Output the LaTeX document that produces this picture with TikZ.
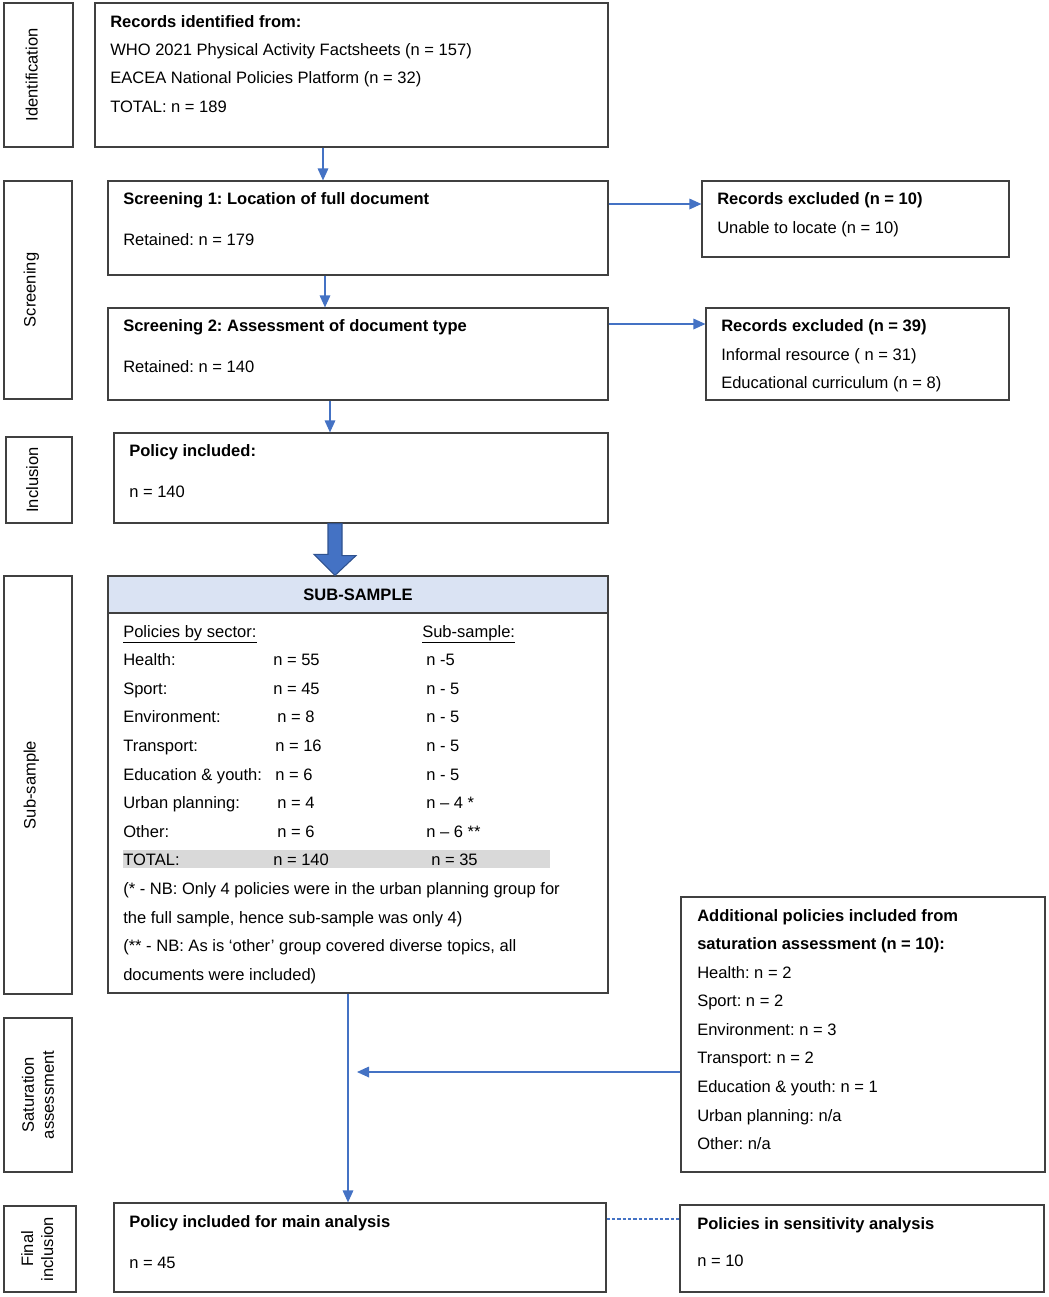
\documentclass[tikz,border=0pt]{standalone}
\usepackage{fontspec}
\setmainfont{Liberation Sans}
\usetikzlibrary{arrows.meta,fit}
\definecolor{flowblue}{HTML}{4472C4}
\definecolor{darkblue}{HTML}{2F528F}
\definecolor{headblue}{HTML}{DAE3F3}
\definecolor{totalgray}{HTML}{D9D9D9}
\definecolor{boxgray}{HTML}{404040}
\frenchspacing

\begin{document}
\begin{tikzpicture}[x=0.75pt, y=-0.75pt,
  box/.style={draw=boxgray, line width=0.9pt, inner sep=0pt},
  txt/.style={anchor=base west, inner sep=0pt, font=\fontsize{12.4}{15}\selectfont},
  side/.style={rotate=90, align=center, inner sep=0pt, font=\fontsize{12.4}{15}\selectfont},
  flow/.style={draw=flowblue, line width=0.9pt, -{Triangle[length=9pt, width=8pt]}}]

  \useasboundingbox (0,0) rectangle (1049,1297);

  % Stage labels (left)
  \node[box, fit={(4,3)(73,147)}] (sid) {};
  \node[side] (sidt) at ([xshift=-5pt]sid.center) {Identification};
  \node[box, fit={(4,181)(72,399)}] (sscr) {};
  \node[side] (sscrt) at ([xshift=-5pt]sscr.center) {Screening};
  \node[box, fit={(6,437)(72,523)}] (sinc) {};
  \node[side] (sinct) at ([xshift=-5pt]sinc.center) {Inclusion};
  \node[box, fit={(4,576)(72,994)}] (ssub) {};
  \node[side] (ssubt) at ([xshift=-5pt]ssub.center) {Sub-sample};
  \node[box, fit={(4,1018)(72,1172)}] (ssat) {};
  \node[side] (ssatt) at (ssat.center) {Saturation\\assessment};
  \node[box, fit={(4,1206)(76,1292)}] (sfin) {};
  \node[side] (sfint) at ([xshift=-2pt]sfin.center) {Final\\inclusion};

  % Identification
  \node[box, fit={(95,3)(608,147)}] (ident) {};
  \node[txt] (id1) at (110,27) {\textbf{Records identified from:}};
  \node[txt] (id2) at (110,55) {WHO 2021 Physical Activity Factsheets (n = 157)};
  \node[txt] (id3) at (110,83) {EACEA National Policies Platform (n = 32)};
  \node[txt] (id4) at (110,112) {TOTAL: n = 189};

  % Screening
  \node[box, fit={(108,181)(608,275)}] (scr1) {};
  \node[txt] (s11) at (123,204) {\textbf{Screening 1: Location of full document}};
  \node[txt] (s12) at (123,245) {Retained: n = 179};
  \node[box, fit={(108,308)(608,400)}] (scr2) {};
  \node[txt] (s21) at (123,331) {\textbf{Screening 2: Assessment of document type}};
  \node[txt] (s22) at (123,372) {Retained: n = 140};

  % Exclusions (right)
  \node[box, fit={(702,181)(1009,257)}] (exc1) {};
  \node[txt] (e11) at (717,204) {\textbf{Records excluded (n = 10)}};
  \node[txt] (e12) at (717,233) {Unable to locate (n = 10)};
  \node[box, fit={(706,308)(1009,400)}] (exc2) {};
  \node[txt] (e21) at (721,331) {\textbf{Records excluded (n = 39)}};
  \node[txt] (e22) at (721,360) {Informal resource ( n = 31)};
  \node[txt] (e23) at (721,388) {Educational curriculum (n = 8)};

  % Inclusion
  \node[box, fit={(114,433)(608,523)}] (incl) {};
  \node[txt] (in1) at (129,456) {\textbf{Policy included:}};
  \node[txt] (in2) at (129,497) {n = 140};

  % Sub-sample
  \node[box, fit={(108,576)(608,993)}] (sub) {};
  \node[box, fill=headblue, fit={(108,576)(608,613)}] (subhead) {};
  \node[txt, anchor=base] (subt) at (358,600) {\textbf{SUB-SAMPLE}};
  \node[fill=totalgray, inner sep=0pt, fit={(123,850)(550,868)}] (totbar) {};
  \node[txt] (h1) at (123,637) {\underline{Policies by sector:}};
  \node[txt] (h2) at (422,637) {\underline{Sub-sample:}};
  \node[txt] (r1a) at (123,665) {Health:};
  \node[txt] (r1b) at (273,665) {n = 55};
  \node[txt] (r1c) at (426,665) {n -5};
  \node[txt] (r2a) at (123,694) {Sport:};
  \node[txt] (r2b) at (273,694) {n = 45};
  \node[txt] (r2c) at (426,694) {n - 5};
  \node[txt] (r3a) at (123,722) {Environment:};
  \node[txt] (r3b) at (277,722) {n = 8};
  \node[txt] (r3c) at (426,722) {n - 5};
  \node[txt] (r4a) at (123,751) {Transport:};
  \node[txt] (r4b) at (275,751) {n = 16};
  \node[txt] (r4c) at (426,751) {n - 5};
  \node[txt] (r5a) at (123,780) {Education \& youth:};
  \node[txt] (r5b) at (275,780) {n = 6};
  \node[txt] (r5c) at (426,780) {n - 5};
  \node[txt] (r6a) at (123,808) {Urban planning:};
  \node[txt] (r6b) at (277,808) {n = 4};
  \node[txt] (r6c) at (426,808) {n – 4 *};
  \node[txt] (r7a) at (123,837) {Other:};
  \node[txt] (r7b) at (277,837) {n = 6};
  \node[txt] (r7c) at (426,837) {n – 6 **};
  \node[txt] (r8a) at (123,865) {TOTAL:};
  \node[txt] (r8b) at (273,865) {n = 140};
  \node[txt] (r8c) at (431,865) {n = 35};
  \node[txt] (nb1) at (123,894) {(* - NB: Only 4 policies were in the urban planning group for};
  \node[txt] (nb2) at (123,923) {the full sample, hence sub-sample was only 4)};
  \node[txt] (nb3) at (123,951) {(** - NB: As is ‘other’ group covered diverse topics, all};
  \node[txt] (nb4) at (123,980) {documents were included)};

  % Saturation assessment
  \node[box, fit={(681,897)(1045,1172)}] (addl) {};
  \node[txt] (a1) at (697,921) {\textbf{Additional policies included from}};
  \node[txt] (a2) at (697,949) {\textbf{saturation assessment (n = 10):}};
  \node[txt] (a3) at (697,978) {Health: n = 2};
  \node[txt] (a4) at (697,1006) {Sport: n = 2};
  \node[txt] (a5) at (697,1035) {Environment: n = 3};
  \node[txt] (a6) at (697,1063) {Transport: n = 2};
  \node[txt] (a7) at (697,1092) {Education \& youth: n = 1};
  \node[txt] (a8) at (697,1121) {Urban planning: n/a};
  \node[txt] (a9) at (697,1149) {Other: n/a};

  % Final inclusion
  \node[box, fit={(114,1203)(606,1292)}] (final) {};
  \node[txt] (f1) at (129,1227) {\textbf{Policy included for main analysis}};
  \node[txt] (f2) at (129,1268) {n = 45};
  \node[box, fit={(680,1205)(1044,1292)}] (sens) {};
  \node[txt] (se1) at (697,1229) {\textbf{Policies in sensitivity analysis}};
  \node[txt] (se2) at (697,1266) {n = 10};

  % Connectors
  \coordinate (c1) at (323,0);
  \coordinate (c2) at (325,0);
  \coordinate (c3) at (330,0);
  \coordinate (c4) at (348,0);
  \coordinate (ex1) at (0,204);
  \coordinate (ex2) at (0,324);
  \coordinate (merge) at (357,1072);
  \coordinate (sl) at (0,1219);
  \draw[flow] (ident.south -| c1) -- (scr1.north -| c1);
  \draw[flow] (scr1.south -| c2) -- (scr2.north -| c2);
  \draw[flow] (scr2.south -| c3) -- (incl.north -| c3);
  \draw[flow] (scr1.east |- ex1) -- (exc1.west |- ex1);
  \draw[flow] (scr2.east |- ex2) -- (exc2.west |- ex2);
  \draw[flow] (sub.south -| c4) -- (final.north -| c4);
  \draw[flow] (addl.west |- merge) -- (merge);
  \draw[draw=flowblue, line width=0.8pt, dash pattern=on 2.5pt off 1.5pt] (final.east |- sl) -- (sens.west |- sl);

  % Block arrow into sub-sample
  \coordinate (ba) at (335,0);
  \filldraw[fill=flowblue, draw=darkblue, line width=0.8pt]
    ([xshift=-7*0.75pt]incl.south -| ba) -- ++(14,0) -- ++(0,32) -- ++(14,0)
    -- (subhead.north -| ba) -- ++(-21,-21) -- ++(14,0) -- cycle;
\end{tikzpicture}
\end{document}
